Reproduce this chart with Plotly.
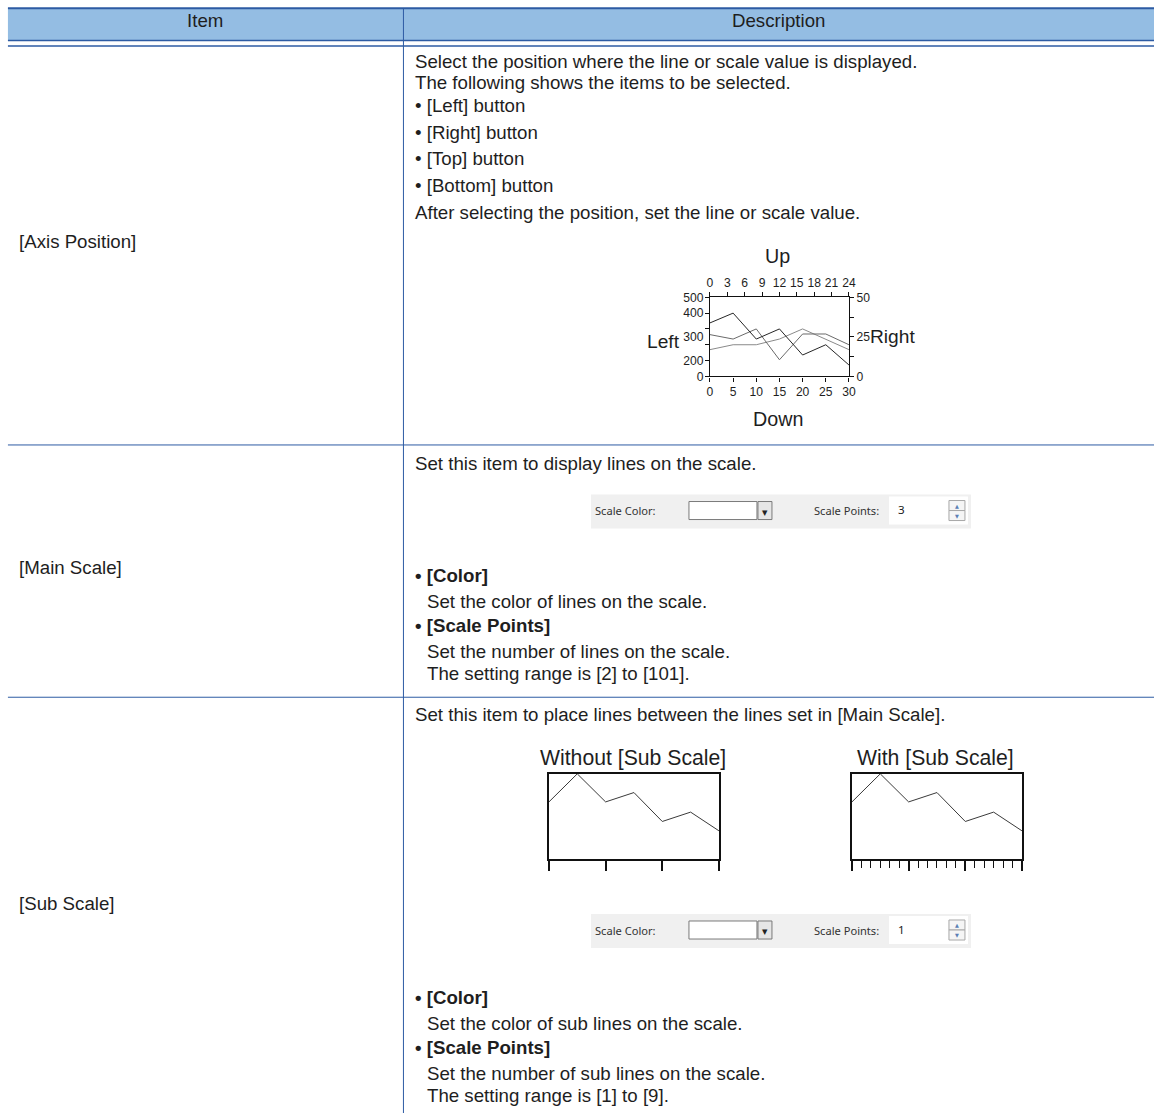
import plotly.graph_objects as go

W, H = 1154, 1113
# the photographed page comes back slightly shrunk and shifted; place marks so
# that they land on the reference positions (measured in earlier runs)
SX, BX = 0.9913, 3.07
SY, BY = 0.9863, 7.04
FS = 1.01  # font compensation for the shrink

# ---------------- data ----------------
AXIS_X = [0, 5, 10, 15, 20, 25, 30]
SERIES_DARK = [338, 400, 236, 300, 135, 200, 72]
SERIES_MID = [264, 236, 300, 105, 268, 268, 200]
SERIES_LIGHT = [169, 200, 200, 236, 300, 236, 169]
BOTTOM_TICKS = [0, 5, 10, 15, 20, 25, 30]
TOP_TICKS = [0, 3, 6, 9, 12, 15, 18, 21, 24]
LEFT_TICK_MARKS = [0, 100, 200, 300, 400, 500]
LEFT_LABEL_VALUES = [0, 100, 250, 400, 500]
LEFT_LABEL_TEXT = ["0", "200", "300", "400", "500"]
RIGHT_TICK_VALUES = [0, 12.5, 25, 37.5, 50]
RIGHT_TICK_TEXT = ["0", "", "25", "", "50"]
SUB_X = [0, 1, 2, 3, 4, 5, 6]
SUB_Y = [67, 100, 67, 78, 44, 55, 33]
MAIN_SCALE_POINTS = "3"
SUB_SCALE_POINTS = "1"

TEXT = "#1e1e1e"
LINE_BLUE = "#2d5ba3"
HEADER_FILL = "#94bde3"
BODY_FONT = "Liberation Sans, Arial, sans-serif"
UI_FONT = "Noto Sans, DejaVu Sans, sans-serif"


def px(x):
    return ((x - BX) / SX) / W


def py(y):
    return 1 - ((y - BY) / SY) / H


fig = go.Figure()
shapes = []
annotations = []


def rect(x0, y0, x1, y1, fill, line=None, lw=1, layer="below"):
    shapes.append(dict(type="rect", xref="paper", yref="paper",
                       x0=px(x0), x1=px(x1), y0=py(y1), y1=py(y0),
                       fillcolor=fill,
                       line=dict(color=line or "rgba(0,0,0,0)", width=lw if line else 0),
                       layer=layer))


def hline(x0, x1, y, color=LINE_BLUE, lw=1):
    shapes.append(dict(type="line", xref="paper", yref="paper",
                       x0=px(x0), x1=px(x1), y0=py(y), y1=py(y),
                       line=dict(color=color, width=lw), layer="above"))


def vline(x, y0, y1, color=LINE_BLUE, lw=1):
    shapes.append(dict(type="line", xref="paper", yref="paper",
                       x0=px(x), x1=px(x), y0=py(y0), y1=py(y1),
                       line=dict(color=color, width=lw), layer="above"))


def text(x, y, s, size=18.5, anchor="left", family=BODY_FONT, color=TEXT, bold=False):
    if bold:
        s = "<b>" + s + "</b>"
    annotations.append(dict(x=px(x), y=py(y), xref="paper", yref="paper",
                            text=s, showarrow=False, xanchor=anchor, yanchor="middle",
                            borderpad=0,
                            font=dict(family=family, size=size * FS, color=color)))


# ---------------- table frame ----------------
top = 8.2  # highest row that can still be drawn
rect(8, top, 1160, 40.5, HEADER_FILL)
hline(8, 1160, top, lw=2)
hline(8, 1160, 40.5, lw=1.5)
hline(8, 1160, 46, lw=1.5)
hline(8, 1160, 444.5, lw=1)
hline(8, 1160, 696.5, lw=1)
vline(403.5, top, 1125, lw=1)

text(205.5, 20.5, "Item", anchor="center", size=18.5)
text(778.5, 20.5, "Description", anchor="center", size=18.5)

# ---------------- row 1 ----------------
text(18, 241, "[Axis Position]")
row1 = [
    (61, "Select the position where the line or scale value is displayed."),
    (82, "The following shows the items to be selected."),
    (105.5, "• [Left] button"),
    (132.5, "• [Right] button"),
    (158.5, "• [Top] button"),
    (185.5, "• [Bottom] button"),
    (212.5, "After selecting the position, set the line or scale value."),
]
for y, s in row1:
    text(414, y, s)

text(778, 256, "Up", size=19.5, anchor="center")
text(681, 341, "Left", size=19, anchor="right")
text(869, 336, "Right", size=19, anchor="left")
text(778, 419, "Down", size=19.5, anchor="center")

# ---------------- row 2 ----------------
text(18, 567, "[Main Scale]")
text(414, 463, "Set this item to display lines on the scale.")
text(414, 575, "• [Color]", bold=True)
text(426, 601, "Set the color of lines on the scale.")
text(414, 625, "• [Scale Points]", bold=True)
text(426, 651, "Set the number of lines on the scale.")
text(426, 673, "The setting range is [2] to [101].")

# ---------------- row 3 ----------------
text(18, 903, "[Sub Scale]")
text(414, 714, "Set this item to place lines between the lines set in [Main Scale].")
text(633, 757, "Without [Sub Scale]", size=21, anchor="center")
text(936, 757, "With [Sub Scale]", size=21, anchor="center")
text(414, 996, "• [Color]", bold=True)
text(426, 1022, "Set the color of sub lines on the scale.")
text(414, 1046, "• [Scale Points]", bold=True)
text(426, 1072, "Set the number of sub lines on the scale.")
text(426, 1094, "The setting range is [1] to [9].")


# ---------------- UI widgets ----------------
def widget(yc, value):
    rect(591, yc - 16, 971, yc + 18, "#f0f0f0")
    text(594, yc, "Scale Color:", size=11, family=UI_FONT, color="#333333")
    rect(689, yc - 9, 757, yc + 9, "#ffffff", line="#7a7a7a")
    rect(758, yc - 9, 772, yc + 9, "#e6e6e6", line="#7a7a7a")
    text(765, yc + 1, "▼", size=7, anchor="center", family=UI_FONT, color="#222222")
    text(813, yc, "Scale Points:", size=11, family=UI_FONT, color="#333333")
    rect(889, yc - 14, 968, yc + 14, "#ffffff")
    text(897, yc - 1, value, size=11.5, family=UI_FONT, color="#222222")
    rect(949, yc - 10, 965, yc, "#f5f5f5", line="#a8a8a8")
    rect(949, yc, 965, yc + 10, "#f5f5f5", line="#a8a8a8")
    text(957, yc - 5, "▲", size=5, anchor="center", family=UI_FONT, color="#5a7fb5")
    text(957, yc + 5, "▼", size=5, anchor="center", family=UI_FONT, color="#5a7fb5")


widget(510, MAIN_SCALE_POINTS)
widget(929, SUB_SCALE_POINTS)

# ---------------- chart 1 (axis position) ----------------
for vals, col in [(SERIES_LIGHT, "#8a8a8a"), (SERIES_MID, "#6a6a6a"), (SERIES_DARK, "#262626")]:
    fig.add_trace(go.Scatter(x=AXIS_X, y=vals, mode="lines", xaxis="x", yaxis="y",
                             line=dict(color=col, width=1), hoverinfo="skip", showlegend=False))
# carriers so that the overlaid top / right / label axes get drawn
fig.add_trace(go.Scatter(x=[], y=[], mode="lines", xaxis="x2", yaxis="y2",
                         hoverinfo="skip", showlegend=False))
fig.add_trace(go.Scatter(x=[], y=[], mode="lines", xaxis="x", yaxis="y5",
                         hoverinfo="skip", showlegend=False))

tickfont = dict(family=BODY_FONT, size=12 * FS, color=TEXT)
axis_common = dict(showgrid=False, zeroline=False, showline=True, linecolor="#111111",
                   linewidth=1.3, ticks="outside", ticklen=4, tickwidth=1,
                   tickcolor="#111111", tickfont=tickfont, fixedrange=True)

# sub-scale traces
fig.add_trace(go.Scatter(x=SUB_X, y=SUB_Y, mode="lines", xaxis="x3", yaxis="y3",
                         line=dict(color="#3a3a3a", width=1), hoverinfo="skip", showlegend=False))
fig.add_trace(go.Scatter(x=SUB_X, y=SUB_Y, mode="lines", xaxis="x4", yaxis="y4",
                         line=dict(color="#3a3a3a", width=1), hoverinfo="skip", showlegend=False))

c1x = [px(710), px(849)]
c1y = [py(376), py(297)]
s1x = [px(549), px(719)]
s2x = [px(852), px(1022)]
sy = [py(858), py(773)]

box_common = dict(showgrid=False, zeroline=False, showline=True, mirror=True,
                  linecolor="#111111", linewidth=1.5, fixedrange=True)

fig.update_layout(
    width=W, height=H, autosize=False,
    margin=dict(l=0, r=0, t=0, b=0, pad=0),
    paper_bgcolor="white", plot_bgcolor="rgba(0,0,0,0)",
    showlegend=False,
    shapes=shapes, annotations=annotations,
    xaxis=dict(axis_common, domain=c1x, range=[0, 30], tickvals=BOTTOM_TICKS,
               anchor="y", side="bottom"),
    xaxis2=dict(axis_common, range=[0, 24], tickvals=TOP_TICKS,
                anchor="y", overlaying="x", side="top"),
    yaxis=dict(axis_common, domain=c1y, range=[0, 500], tickvals=LEFT_TICK_MARKS,
               showticklabels=False, anchor="x", side="left"),
    yaxis5=dict(showgrid=False, zeroline=False, showline=False, ticks="outside",
                ticklen=3, tickcolor="rgba(0,0,0,0)", tickfont=tickfont,
                range=[0, 500], tickvals=LEFT_LABEL_VALUES, ticktext=LEFT_LABEL_TEXT,
                overlaying="y", anchor="x", side="left", fixedrange=True),
    yaxis2=dict(axis_common, range=[0, 50], tickvals=RIGHT_TICK_VALUES,
                ticktext=RIGHT_TICK_TEXT, overlaying="y", anchor="x", side="right"),
    xaxis3=dict(box_common, domain=s1x, range=[0, 6], tickvals=[0, 2, 4, 6],
                ticks="outside", ticklen=10, tickwidth=1.5, tickcolor="#111111",
                showticklabels=False, anchor="y3"),
    yaxis3=dict(box_common, domain=sy, range=[0, 100], ticks="", showticklabels=False,
                anchor="x3"),
    xaxis4=dict(box_common, domain=s2x, range=[0, 6], tickvals=[0, 2, 4, 6],
                ticks="outside", ticklen=10, tickwidth=1.5, tickcolor="#111111",
                showticklabels=False, anchor="y4",
                minor=dict(ticks="outside", ticklen=7, tickwidth=1, tickcolor="#111111",
                           dtick=1 / 3, tick0=0, showgrid=False)),
    yaxis4=dict(box_common, domain=sy, range=[0, 100], ticks="", showticklabels=False,
                anchor="x4"),
)

fig.write_html(
    "out.html",
    config={"displayModeBar": False, "responsive": False},
    post_script=(
        "document.documentElement.style.margin='0';"
        "document.documentElement.style.overflow='hidden';"
        "document.body.style.margin='0';"
        "document.body.style.overflow='hidden';"
        "var d=document.getElementById('{plot_id}');"
        "d.style.position='fixed';d.style.left='0px';d.style.top='0px';"
    ),
)
